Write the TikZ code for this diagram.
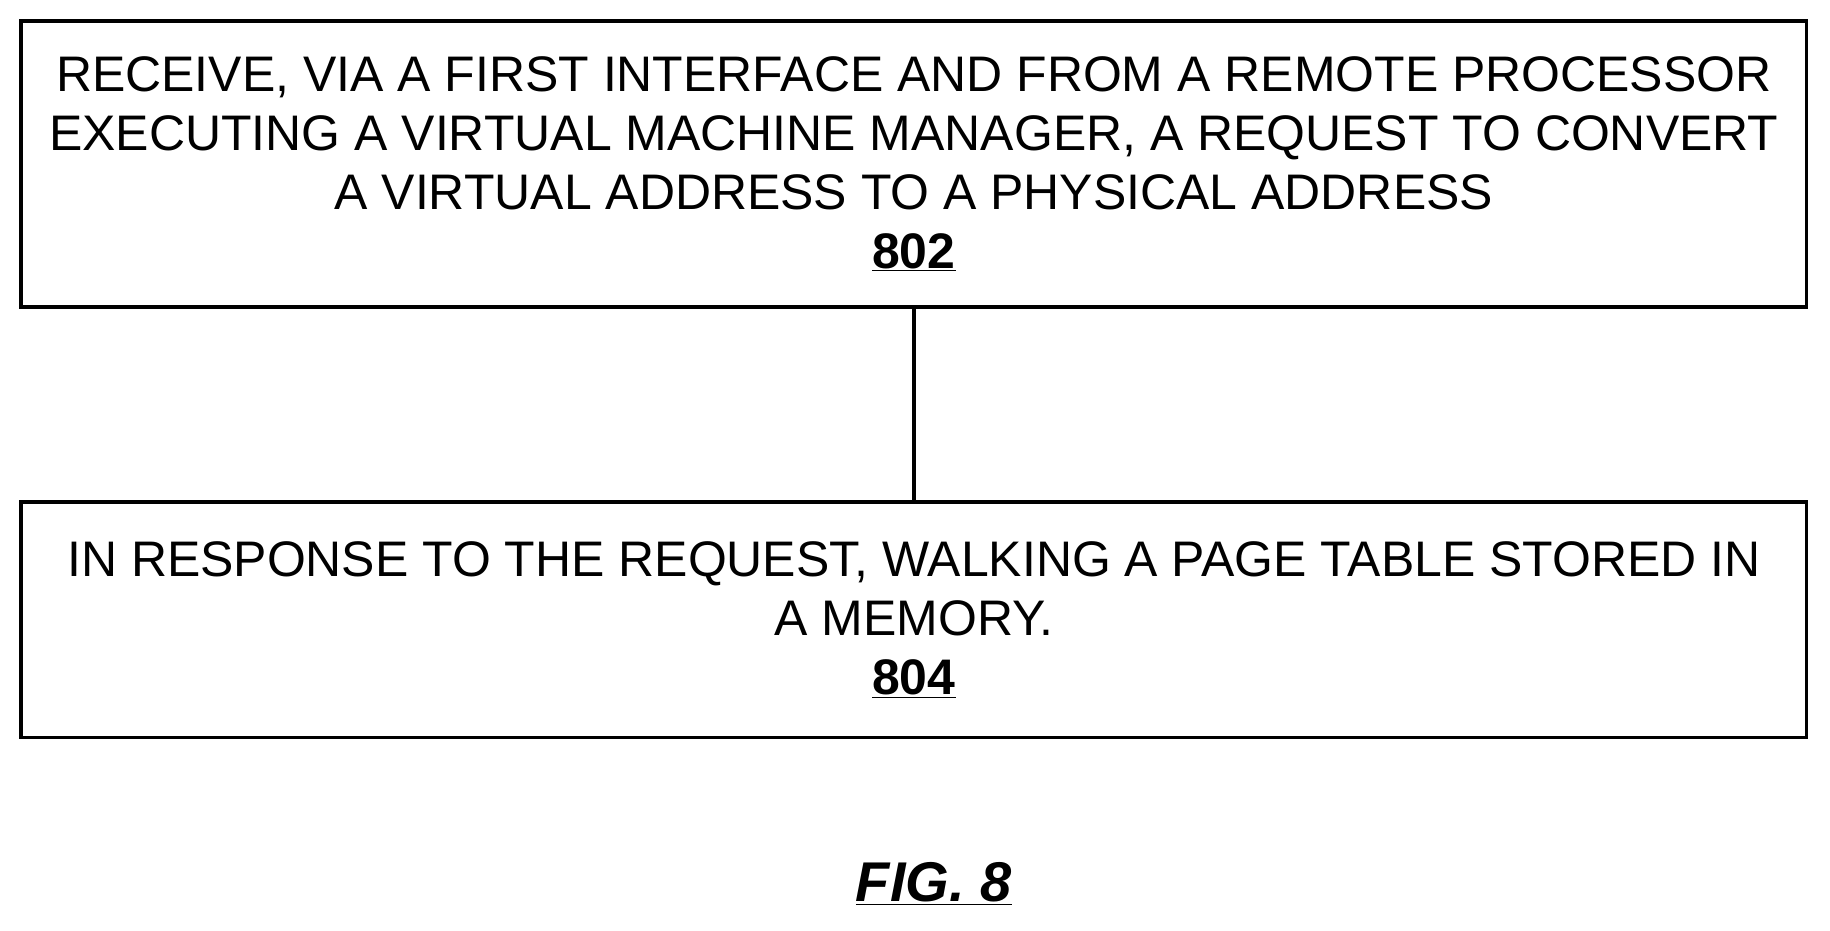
\documentclass[tikz,border=0pt]{standalone}
\usepackage{fontspec}
\setmainfont{Liberation Sans}
\begin{document}
\begin{tikzpicture}[x=1pt,y=-1pt,
  box/.style={draw,line width=3pt,minimum width=1530pt,align=center,inner sep=0pt,
    font=\fontsize{42.8}{50.5}\selectfont},
  conn/.style={line width=3pt}]
\useasboundingbox (0,0) rectangle (1568,797);
\node[box,minimum height=245pt] (b1) at (783,140.5) {RECEIVE, VIA A FIRST INTERFACE AND FROM A REMOTE PROCESSOR\\EXECUTING A VIRTUAL MACHINE MANAGER, A REQUEST TO CONVERT\\A VIRTUAL ADDRESS TO A PHYSICAL ADDRESS\\\textbf{\underline{802}}};
\node[box,minimum height=202pt] (b2) at (783,531) {IN RESPONSE TO THE REQUEST, WALKING A PAGE TABLE STORED IN\\A MEMORY.\\\textbf{\underline{804}}};
\draw[conn] (b1) -- (b2);
\node[font=\fontsize{48}{56}\selectfont\bfseries\itshape] (fig) at (800,757) {\underline{FIG. 8}};
\end{tikzpicture}
\end{document}
